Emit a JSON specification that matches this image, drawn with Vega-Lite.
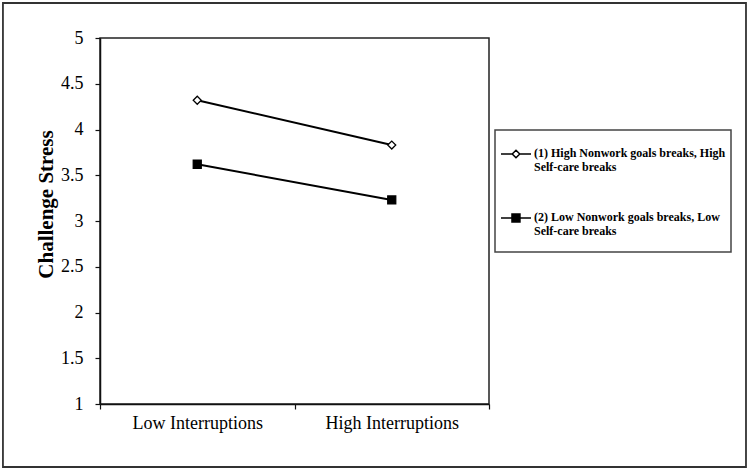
{
  "$schema": "https://vega.github.io/schema/vega-lite/v6.json",
  "width": 389,
  "height": 366,
  "padding": 2,
  "background": "white",
  "config": {
    "view": {"stroke": "#222", "strokeWidth": 1.5},
    "font": "Liberation Serif",
    "axis": {
      "domainColor": "#111",
      "domainWidth": 1.5,
      "tickColor": "#111",
      "tickWidth": 1.2,
      "tickSize": 5,
      "labelFont": "Liberation Serif",
      "labelFontSize": 18,
      "labelColor": "black",
      "titleFont": "Liberation Serif",
      "titleFontSize": 21,
      "titleFontWeight": "bold",
      "titleColor": "black",
      "grid": false
    }
  },
  "layer": [
    {
      "data": {"values": [{"frame": "outer"}]},
      "mark": {"type": "rect", "fill": "white", "fillOpacity": 0, "stroke": "#333", "strokeWidth": 1.8},
      "encoding": {
        "x": {"datum": -0.499, "type": "quantitative", "scale": {"domain": [0, 2], "nice": false, "zero": false}, "axis": null},
        "x2": {"datum": 3.3213},
        "y": {"datum": 5.3825, "type": "quantitative", "scale": {"domain": [1, 5], "nice": false, "zero": false}, "axis": null},
        "y2": {"datum": 0.3115}
      }
    },
    {
      "data": {
        "values": [
          {"series": "(1) High Nonwork goals breaks, High Self-care breaks", "interruptions": "Low Interruptions", "stress": 4.32},
          {"series": "(1) High Nonwork goals breaks, High Self-care breaks", "interruptions": "High Interruptions", "stress": 3.83},
          {"series": "(2) Low Nonwork goals breaks, Low Self-care breaks", "interruptions": "Low Interruptions", "stress": 3.62},
          {"series": "(2) Low Nonwork goals breaks, Low Self-care breaks", "interruptions": "High Interruptions", "stress": 3.23}
        ]
      },
      "encoding": {
        "x": {
          "field": "interruptions",
          "type": "nominal",
          "sort": ["Low Interruptions", "High Interruptions"],
          "scale": {"type": "band", "paddingInner": 0, "paddingOuter": 0},
          "axis": {"title": null, "tickBand": "extent", "labelAngle": 0, "labelPadding": 5}
        },
        "y": {
          "field": "stress",
          "type": "quantitative",
          "scale": {"domain": [1, 5], "nice": false, "zero": false},
          "axis": {
            "title": "Challenge Stress",
            "values": [1, 1.5, 2, 2.5, 3, 3.5, 4, 4.5, 5],
            "format": "~g",
            "labelPadding": 12,
            "titlePadding": 4,
            "titleY": 166
          }
        }
      },
      "layer": [
        {
          "mark": {"type": "line", "strokeWidth": 2},
          "encoding": {
            "color": {
              "field": "series",
              "type": "nominal",
              "scale": {"range": ["black", "black"]},
              "legend": {
                "orient": "none",
                "legendX": 395,
                "legendY": 92,
                "title": " ",
                "titleOrient": "bottom",
                "titleFontSize": 5,
                "titlePadding": 5,
                "strokeColor": "#444",
                "fillColor": "white",
                "padding": 5,
                "symbolSize": 1296,
                "symbolStrokeWidth": 1.5,
                "symbolStrokeColor": "black",
                "labelFont": "Liberation Serif",
                "labelFontSize": 12,
                "labelFontWeight": "bold",
                "labelColor": "black",
                "labelLimit": 400,
                "labelOffset": -4,
                "labelBaseline": "top",
                "rowPadding": 26,
                "labelExpr": "datum.label === '(1) High Nonwork goals breaks, High Self-care breaks' ? ['(1) High Nonwork goals breaks, High', 'Self-care breaks'] : ['(2) Low Nonwork goals breaks, Low', 'Self-care breaks']",
                "encode": {
                  "legend": {"update": {"strokeWidth": {"value": 1.5}}},
                  "symbols": {
                    "update": {
                      "shape": {"signal": "datum.value === '(1) High Nonwork goals breaks, High Self-care breaks' ? 'M-1,0H-0.38M0.04,0H0.667M-0.167,-0.21L0.043,0L-0.167,0.21L-0.377,0Z' : 'M-1,0H0.667M-0.39,-0.22H0.053V0.22H-0.39Z'"},
                      "fill": {"signal": "datum.value === '(1) High Nonwork goals breaks, High Self-care breaks' ? 'white' : 'black'"},
                      "stroke": {"value": "black"},
                      "opacity": {"value": 1}
                    }
                  },
                  "labels": {"update": {"dy": {"value": -6.5}, "lineHeight": {"value": 14}}}
                }
              }
            }
          }
        },
        {
          "mark": {"type": "point", "filled": true, "stroke": "black", "strokeWidth": 1.3, "size": 64, "opacity": 1},
          "encoding": {
            "shape": {"field": "series", "type": "nominal", "scale": {"range": ["diamond", "square"]}, "legend": null},
            "fill": {"field": "series", "type": "nominal", "scale": {"range": ["white", "black"]}, "legend": null}
          }
        }
      ]
    }
  ],
  "resolve": {"scale": {"x": "independent", "y": "independent"}}
}
